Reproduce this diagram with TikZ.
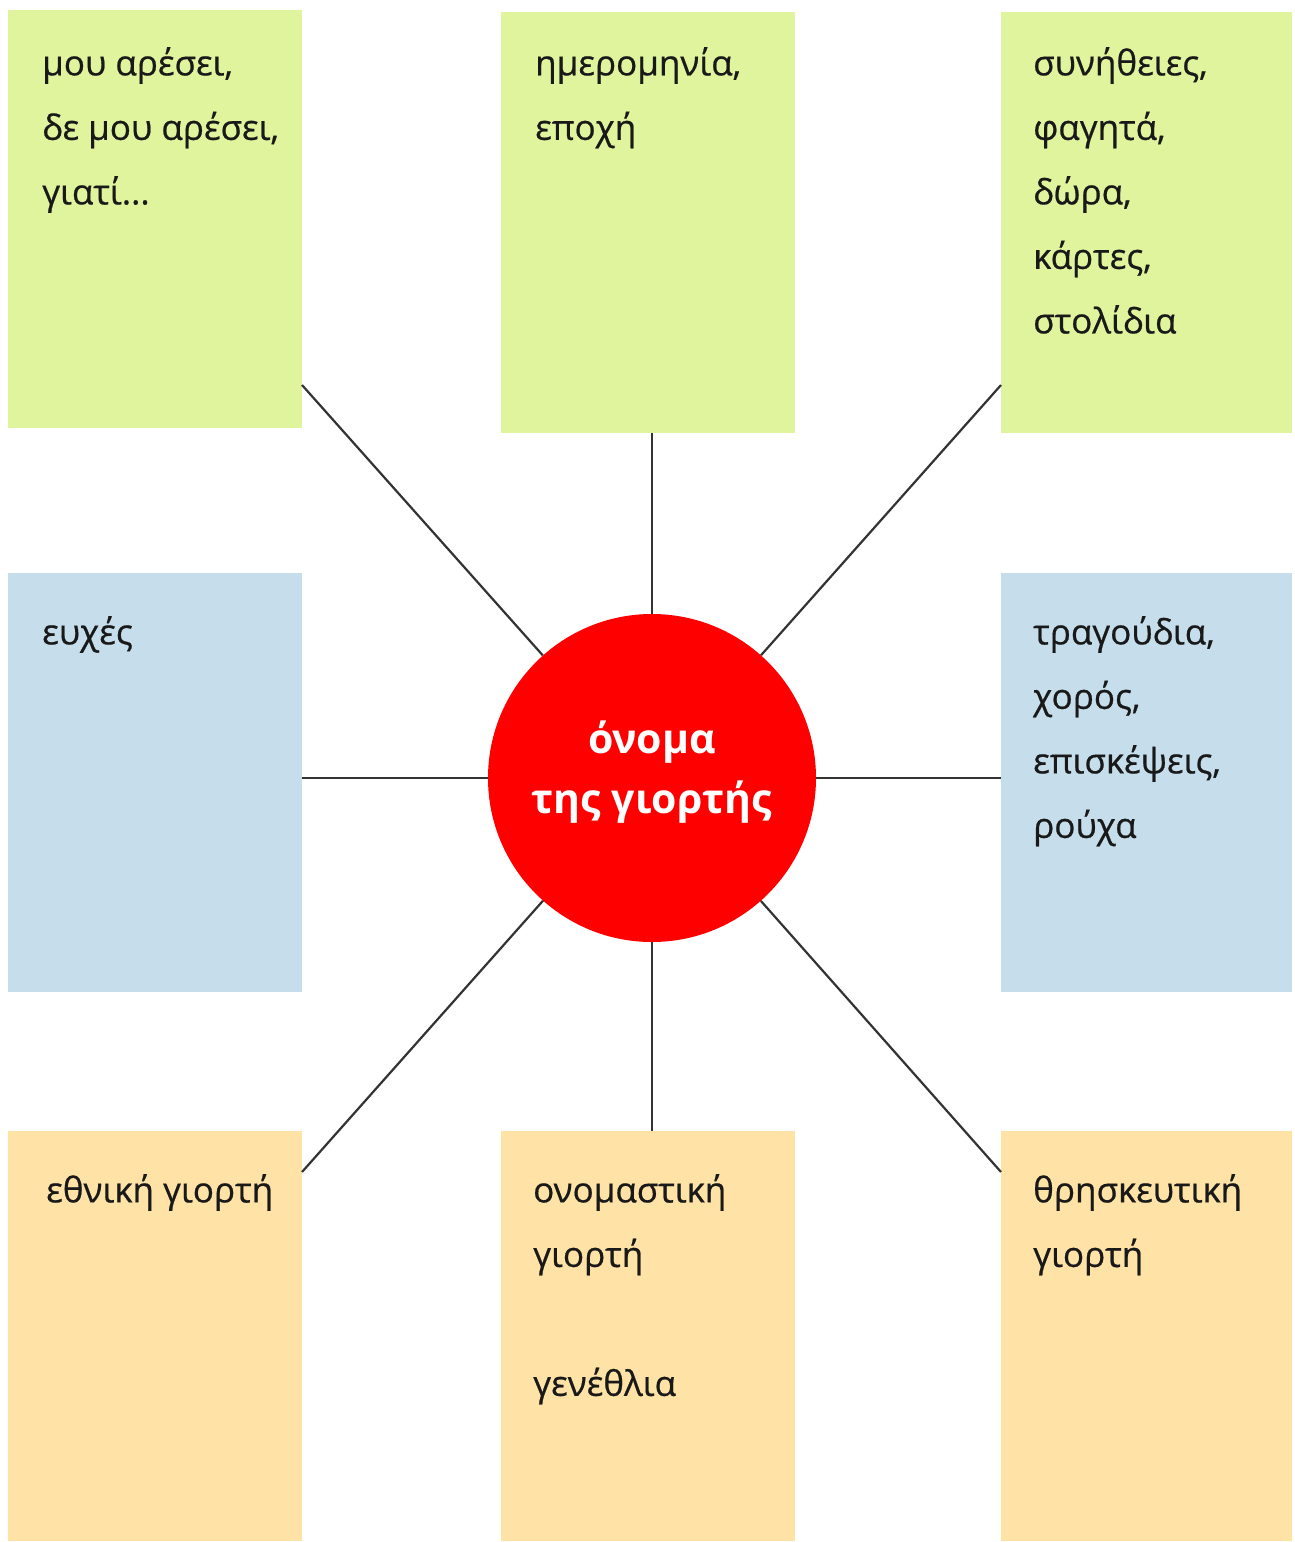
\documentclass[tikz,border=0pt]{standalone}
\usepackage{fontspec}
\setmainfont{Open Sans}
\newfontfamily\boxfont[FakeBold=0.6]{Open Sans}
\definecolor{boxgreen}{RGB}{224,244,158}
\definecolor{boxblue}{RGB}{198,222,236}
\definecolor{boxorange}{RGB}{255,226,165}
\definecolor{hubred}{RGB}{255,0,0}
\tikzset{
  box/.style={draw=none, inner sep=0, anchor=north west},
  gbox/.style={box, fill=boxgreen},
  bbox/.style={box, fill=boxblue},
  obox/.style={box, fill=boxorange},
  boxtext/.style={anchor=north west, inner sep=0, align=left, text=black!90,
    font=\boxfont\fontsize{35}{64.5}\selectfont},
  hub/.style={circle, fill=hubred, minimum size=328, inner sep=0, text=white,
    align=center, font=\fontsize{41}{60}\selectfont\bfseries},
  spoke/.style={draw=black!80, line width=2.2}
}
\begin{document}
\begin{tikzpicture}[x=1pt,y=-1pt]
\useasboundingbox[fill=white] (0,0) rectangle (1294,1542);
% boxes
\node[gbox, minimum width=294, minimum height=418] (b1) at (8,10) {};
\node[gbox, minimum width=294, minimum height=421] (b2) at (501,12) {};
\node[gbox, minimum width=291, minimum height=421] (b3) at (1001,12) {};
\node[bbox, minimum width=294, minimum height=419] (b4) at (8,573) {};
\node[bbox, minimum width=291, minimum height=419] (b5) at (1001,573) {};
\node[obox, minimum width=294, minimum height=410] (b6) at (8,1131) {};
\node[obox, minimum width=294, minimum height=410] (b7) at (501,1131) {};
\node[obox, minimum width=291, minimum height=410] (b8) at (1001,1131) {};
% hub
\node[hub] (c) at (652,778) {\strut όνομα\\\strut της γιορτής\rule[-32pt]{0pt}{0pt}};
% spoke end points on box edges
\coordinate (p1) at (302,385);
\coordinate (p2) at (652,433);
\coordinate (p3) at (1001,385);
\coordinate (p4) at (302,778);
\coordinate (p5) at (1001,778);
\coordinate (p6) at (302,1172);
\coordinate (p7) at (652,1131);
\coordinate (p8) at (1001,1172);
\foreach \i in {1,...,8} \draw[spoke] (c) -- (p\i);
% texts
\node[boxtext] (t1) at ([xshift=34,yshift=-20]b1.north west) {\strut μου αρέσει,\\δε μου αρέσει,\\γιατί...};
\node[boxtext] (t2) at ([xshift=34,yshift=-18]b2.north west) {\strut ημερομηνία,\\εποχή};
\node[boxtext] (t3) at ([xshift=32,yshift=-18]b3.north west) {\strut συνήθειες,\\φαγητά,\\δώρα,\\κάρτες,\\στολίδια};
\node[boxtext] (t4) at ([xshift=34,yshift=-26]b4.north west) {\strut ευχές};
\node[boxtext] (t5) at ([xshift=32,yshift=-26]b5.north west) {\strut τραγούδια,\\χορός,\\επισκέψεις,\\ρούχα};
\node[boxtext] (t6) at ([xshift=38,yshift=-26]b6.north west) {\strut εθνική γιορτή};
\node[boxtext] (t7) at ([xshift=32,yshift=-26]b7.north west) {\strut ονομαστική\\γιορτή\\[64.5pt]γενέθλια};
\node[boxtext] (t8) at ([xshift=32,yshift=-26]b8.north west) {\strut θρησκευτική\\γιορτή};
\end{tikzpicture}
\end{document}
